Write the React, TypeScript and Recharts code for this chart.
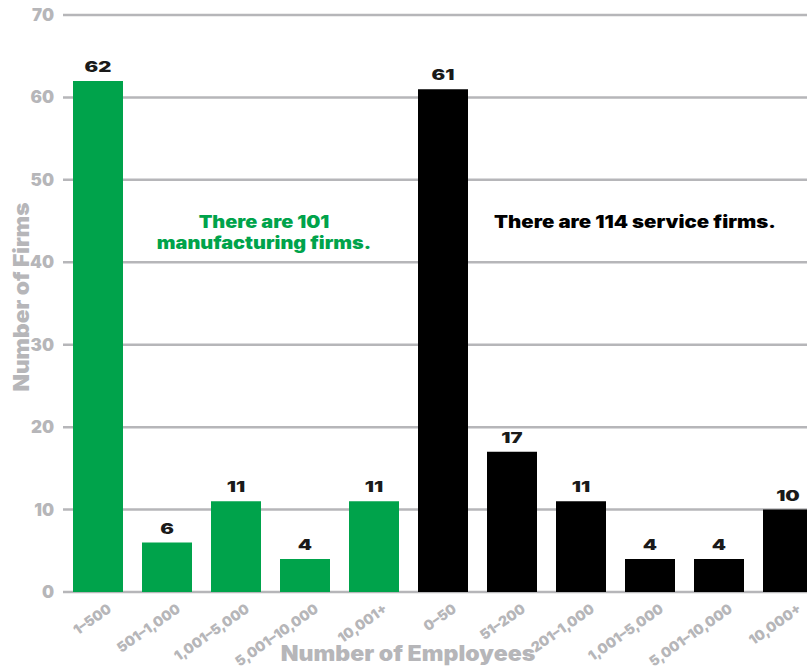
import { BarChart, Bar, XAxis, YAxis, CartesianGrid, Cell, LabelList } from "recharts"

const manufacturingBands = ["1–500", "501–1,000", "1,001–5,000", "5,001–10,000", "10,001+"]
const manufacturingFirms = [62, 6, 11, 4, 11]
const serviceBands = ["0–50", "51–200", "201–1,000", "1,001–5,000", "5,001–10,000", "10,000+"]
const serviceFirms = [61, 17, 11, 4, 4, 10]
const yTicks = [0, 10, 20, 30, 40, 50, 60, 70]

const GREEN = "#00a34b"
const GRAY = "#b6b6b9"
const FONT = "Inter, 'Liberation Sans', sans-serif"

const data = [
  ...manufacturingBands.map((band, i) => ({
    key: `m${i}`,
    band,
    firms: manufacturingFirms[i],
    color: GREEN,
  })),
  ...serviceBands.map((band, i) => ({
    key: `s${i}`,
    band,
    firms: serviceFirms[i],
    color: "#000000",
  })),
]

function BandTick({ x, y, payload }: any) {
  const row = data.find((d) => d.key === payload.value)
  const ax = x + 15
  const ay = y + 11
  return (
    <text
      x={ax}
      y={ay}
      transform={`rotate(-35 ${ax} ${ay})`}
      textAnchor="end"
      fill={GRAY}
      fontSize={14}
      fontWeight={900}
      fontFamily={FONT}
    >
      {row ? row.band : ""}
    </text>
  )
}

// wide, heavy count above each bar
function CountLabel({ x, y, width, value }: any) {
  const cx = Number(x) + Number(width) / 2
  const by = Number(y) - 9
  return (
    <text
      x={cx}
      y={by}
      textAnchor="middle"
      transform={`translate(${cx} 0) scale(1.4 1) translate(${-cx} 0)`}
      fill="#1a1a1a"
      fontSize={14.5}
      fontWeight={900}
      fontFamily={FONT}
    >
      {value}
    </text>
  )
}

const heavy = { fontFamily: FONT, fontWeight: 900 } as const

export default function App() {
  return (
    <div
      style={{
        position: "absolute",
        left: 0,
        top: 0,
        width: 807,
        height: 669,
        overflow: "hidden",
        background: "#fff",
      }}
    >
      <BarChart
        width={822}
        height={669}
        data={data}
        margin={{ top: 15, right: 0, bottom: 0, left: 0 }}
        barSize={50}
      >
        <CartesianGrid vertical={false} stroke={GRAY} strokeWidth={2.5} />
        <YAxis
          width={63}
          domain={[0, 70]}
          ticks={yTicks}
          axisLine={false}
          tickLine={false}
          tickMargin={3}
          tick={{ fill: GRAY, fontSize: 17, ...heavy }}
        />
        <XAxis
          dataKey="key"
          height={77}
          interval={0}
          axisLine={false}
          tickLine={false}
          tick={<BandTick />}
        />
        <Bar dataKey="firms" isAnimationActive={false}>
          {data.map((d) => (
            <Cell key={d.key} fill={d.color} />
          ))}
          <LabelList dataKey="firms" content={<CountLabel />} />
        </Bar>
      </BarChart>

      <div
        style={{
          position: "absolute",
          left: 164,
          top: 212,
          width: 200,
          textAlign: "center",
          color: GREEN,
          fontSize: 17,
          lineHeight: "21px",
          transform: "scaleX(1.17)",
          ...heavy,
        }}
      >
        There are 101
        <br />
        manufacturing firms.
      </div>
      <div
        style={{
          position: "absolute",
          left: 485,
          top: 212,
          width: 300,
          textAlign: "center",
          color: "#000",
          fontSize: 17,
          lineHeight: "21px",
          transform: "scaleX(1.2)",
          ...heavy,
        }}
      >
        There are 114 service firms.
      </div>
      <div
        style={{
          position: "absolute",
          left: 258,
          top: 641,
          width: 300,
          textAlign: "center",
          color: GRAY,
          fontSize: 21,
          lineHeight: "26px",
          transform: "scaleX(1.1)",
          ...heavy,
        }}
      >
        Number of Employees
      </div>
      <div
        style={{
          position: "absolute",
          left: 22 - 120,
          top: 297 - 13,
          width: 240,
          textAlign: "center",
          color: GRAY,
          fontSize: 21,
          lineHeight: "26px",
          transform: "rotate(-90deg) scaleX(1.08)",
          ...heavy,
        }}
      >
        Number of Firms
      </div>
    </div>
  )
}
